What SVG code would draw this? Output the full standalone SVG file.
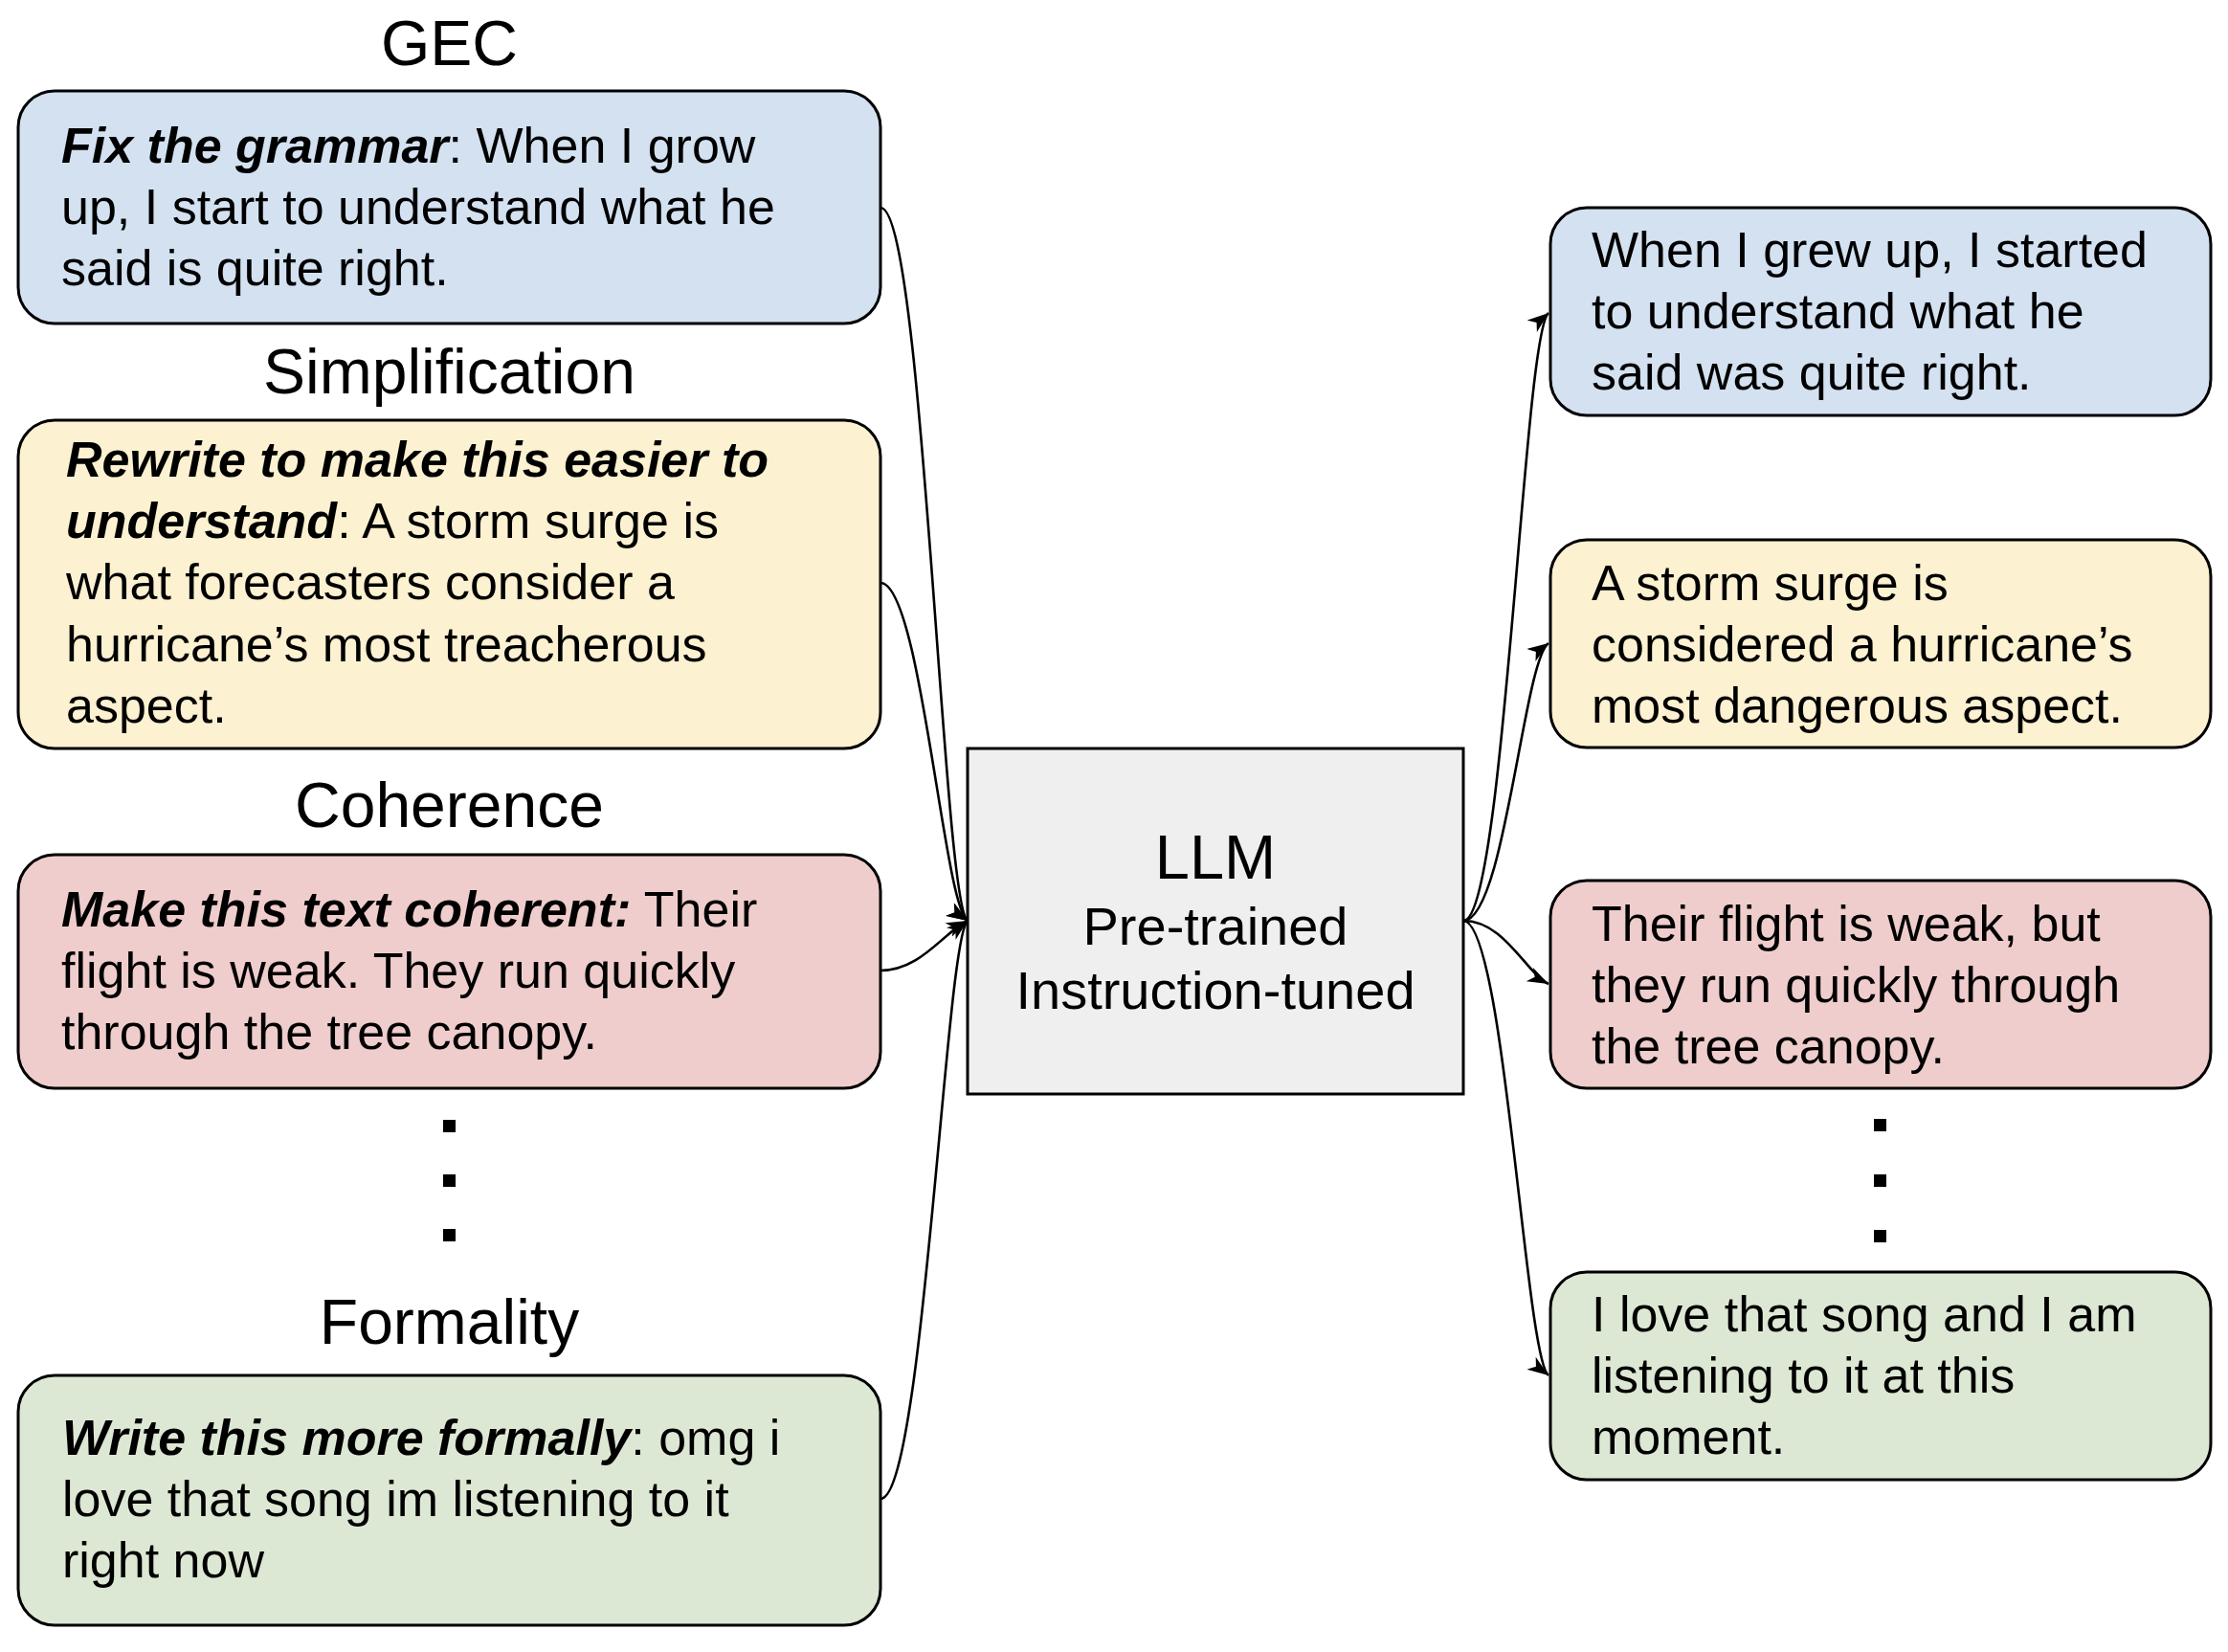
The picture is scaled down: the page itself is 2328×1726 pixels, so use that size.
<svg xmlns="http://www.w3.org/2000/svg" width="2328" height="1726" viewBox="0 0 2328 1726">
<defs>
<style>
.t{font-family:"Liberation Sans",Arial,sans-serif;font-size:52px;fill:#000}
.h{font-family:"Liberation Sans",Arial,sans-serif;font-size:66px;fill:#000;text-anchor:middle}
.bi{font-weight:bold;font-style:italic}
.box{stroke:#000;stroke-width:3}
.conn{fill:none;stroke:#000;stroke-width:2.6}
</style>
<marker id="arr" markerUnits="userSpaceOnUse" markerWidth="24" markerHeight="18" refX="22" refY="8" orient="auto">
<path d="M0,0 L22,8 L0,16 L6,8 z" fill="#000"/>
</marker>
</defs>
<rect width="2328" height="1726" fill="#fff"/>

<g id="title-gec"><text class="h" x="469.5" y="68">GEC</text></g>
<g id="title-simplification"><text class="h" x="469.5" y="411">Simplification</text></g>
<g id="title-coherence"><text class="h" x="469.5" y="864">Coherence</text></g>
<g id="title-formality"><text class="h" x="469.5" y="1404">Formality</text></g>

<g id="in-gec">
<rect class="box" x="19" y="95" width="901" height="243" rx="38" fill="#d3e1f1"/>
<text class="t" x="64" y="170"><tspan class="bi">Fix the grammar</tspan>: When I grow</text>
<text class="t" x="64" y="234">up, I start to understand what he</text>
<text class="t" x="64" y="298">said is quite right.</text>
</g>

<g id="in-simplification">
<rect class="box" x="19" y="439" width="901" height="343" rx="38" fill="#fcf1d0"/>
<text class="t" x="69" y="498"><tspan class="bi">Rewrite to make this easier to</tspan></text>
<text class="t" x="69" y="562"><tspan class="bi">understand</tspan>: A storm surge is</text>
<text class="t" x="69" y="626">what forecasters consider a</text>
<text class="t" x="69" y="691">hurricane’s most treacherous</text>
<text class="t" x="69" y="755">aspect.</text>
</g>

<g id="in-coherence">
<rect class="box" x="19" y="893" width="901" height="244" rx="38" fill="#efcdcc"/>
<text class="t" x="64" y="968"><tspan class="bi">Make this text coherent:</tspan> Their</text>
<text class="t" x="64" y="1032">flight is weak. They run quickly</text>
<text class="t" x="64" y="1096">through the tree canopy.</text>
</g>

<g id="dots-left">
<rect x="463" y="1170" width="13" height="13" fill="#000"/>
<rect x="463" y="1227" width="13" height="13" fill="#000"/>
<rect x="463" y="1284" width="13" height="13" fill="#000"/>
</g>

<g id="in-formality">
<rect class="box" x="19" y="1437" width="901" height="261" rx="38" fill="#dde8d4"/>
<text class="t" x="65" y="1520"><tspan class="bi">Write this more formally</tspan>: omg i</text>
<text class="t" x="65" y="1584">love that song im listening to it</text>
<text class="t" x="65" y="1648">right now</text>
</g>

<g id="llm">
<rect class="box" x="1011" y="782" width="518" height="361" fill="#efefef"/>
<text class="h" x="1270" y="918" style="font-size:65px">LLM</text>
<text class="h" x="1270" y="987" style="font-size:56px">Pre-trained</text>
<text class="h" x="1270" y="1054" style="font-size:56px">Instruction-tuned</text>
</g>

<g id="out-gec">
<rect class="box" x="1620" y="217" width="690" height="217" rx="38" fill="#d3e1f1"/>
<text class="t" x="1663" y="279">When I grew up, I started</text>
<text class="t" x="1663" y="343">to understand what he</text>
<text class="t" x="1663" y="407">said was quite right.</text>
</g>

<g id="out-simplification">
<rect class="box" x="1620" y="564" width="690" height="217" rx="38" fill="#fcf1d0"/>
<text class="t" x="1663" y="627">A storm surge is</text>
<text class="t" x="1663" y="691">considered a hurricane’s</text>
<text class="t" x="1663" y="755">most dangerous aspect.</text>
</g>

<g id="out-coherence">
<rect class="box" x="1620" y="920" width="690" height="217" rx="38" fill="#efcdcc"/>
<text class="t" x="1663" y="983">Their flight is weak, but</text>
<text class="t" x="1663" y="1047">they run quickly through</text>
<text class="t" x="1663" y="1111">the tree canopy.</text>
</g>

<g id="dots-right">
<rect x="1958" y="1169" width="13" height="13" fill="#000"/>
<rect x="1958" y="1227" width="13" height="13" fill="#000"/>
<rect x="1958" y="1285" width="13" height="13" fill="#000"/>
</g>

<g id="out-formality">
<rect class="box" x="1620" y="1329" width="690" height="217" rx="38" fill="#dde8d4"/>
<text class="t" x="1663" y="1391">I love that song and I am</text>
<text class="t" x="1663" y="1455">listening to it at this</text>
<text class="t" x="1663" y="1519">moment.</text>
</g>

<g id="connectors">
<path class="conn" marker-end="url(#arr)" d="M920,217 C965,217 985,945 1011,962"/>
<path class="conn" marker-end="url(#arr)" d="M920,609 C962,609 986,946 1011,962"/>
<path class="conn" marker-end="url(#arr)" d="M920,1014 C962,1014 986,974 1011,962"/>
<path class="conn" marker-end="url(#arr)" d="M920,1566 C965,1566 988,980 1011,962"/>
<path class="conn" marker-end="url(#arr)" d="M1529,962 C1572,962 1592,348 1618,327"/>
<path class="conn" marker-end="url(#arr)" d="M1529,962 C1572,962 1592,690 1618,672"/>
<path class="conn" marker-end="url(#arr)" d="M1529,962 C1572,962 1594,1016 1618,1028"/>
<path class="conn" marker-end="url(#arr)" d="M1529,962 C1572,962 1594,1420 1618,1437"/>
</g>
</svg>
